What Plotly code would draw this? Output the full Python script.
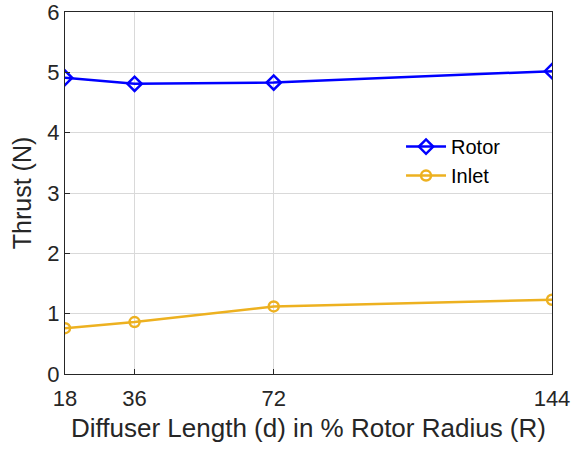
import plotly.graph_objects as go

diffuser_length = [18, 36, 72, 144]
rotor_thrust = [4.91, 4.81, 4.83, 5.02]
inlet_thrust = [0.76, 0.86, 1.12, 1.23]
x_ticks = [18, 36, 72, 144]
y_ticks = [0, 1, 2, 3, 4, 5, 6]

fig = go.Figure()
fig.add_trace(go.Scatter(
    x=diffuser_length, y=rotor_thrust, name="Rotor", mode="lines+markers",
    line=dict(color="#0000FF", width=2.5),
    marker=dict(symbol="diamond-open", size=11, color="#0000FF", line=dict(width=2.5)),
))
fig.add_trace(go.Scatter(
    x=diffuser_length, y=inlet_thrust, name="Inlet", mode="lines+markers",
    line=dict(color="#EDB120", width=2.5),
    marker=dict(symbol="circle-open", size=10, color="#EDB120", line=dict(width=2.5)),
))

axis_common = dict(
    showline=True, linecolor="#262626", linewidth=1, mirror=True,
    showgrid=True, gridcolor="#D9D9D9", gridwidth=1,
    ticks="inside", ticklen=5, tickcolor="#262626",
    tickfont=dict(size=22, color="#262626"), zeroline=False,
    automargin=False, ticklabeloverflow="allow",
)

fig.update_xaxes(
    range=[18, 144], tickvals=x_ticks, ticktext=[str(v) for v in x_ticks],
    ticklabelstandoff=5,
    title=dict(text="Diffuser Length (d) in % Rotor Radius (R)", font=dict(size=26, color="#262626"), standoff=8),
    **axis_common,
)
fig.update_yaxes(
    range=[0, 6], tickvals=y_ticks,
    title=dict(text="Thrust (N)", font=dict(size=25, color="#262626"), standoff=8),
    **axis_common,
)

fig.update_layout(
    width=571, height=451,
    margin=dict(l=65, r=19, t=12, b=77),
    plot_bgcolor="white", paper_bgcolor="white",
    font=dict(family="Liberation Sans, Arial, sans-serif", color="#262626"),
    legend=dict(
        x=0.69, y=0.682, xanchor="left", yanchor="top",
        bgcolor="rgba(255,255,255,0)", borderwidth=0,
        font=dict(size=20, color="black"), itemwidth=40, tracegroupgap=0,
    ),
)

fig.write_html("out.html")
